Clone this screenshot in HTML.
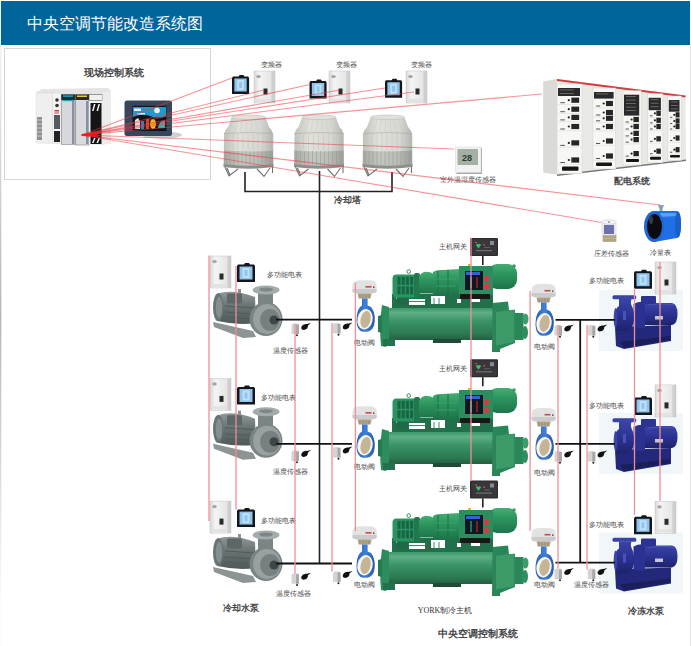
<!DOCTYPE html>
<html><head><meta charset="utf-8"><style>html,body{margin:0;padding:0;background:#fff;width:691px;height:646px;overflow:hidden;position:relative;font-family:"Liberation Sans",sans-serif}</style></head><body>
<svg width="691" height="646" viewBox="0 0 691 646" style="position:absolute;left:0;top:0" font-family="Liberation Serif, serif">

<defs>
<linearGradient id="gInv" x1="0" x2="1"><stop offset="0" stop-color="#d8d8d8"/><stop offset="0.25" stop-color="#f4f4f4"/><stop offset="0.8" stop-color="#e6e6e6"/><stop offset="1" stop-color="#c4c4c4"/></linearGradient>
<linearGradient id="gTower" x1="0" x2="1"><stop offset="0" stop-color="#bfc1bb"/><stop offset="0.3" stop-color="#e0e1dc"/><stop offset="0.75" stop-color="#d6d7d2"/><stop offset="1" stop-color="#b2b4ae"/></linearGradient>
<linearGradient id="gTowerL" x1="0" x2="1"><stop offset="0" stop-color="#a6a9a2"/><stop offset="0.35" stop-color="#c4c6c0"/><stop offset="0.7" stop-color="#bbbdb7"/><stop offset="1" stop-color="#9a9d97"/></linearGradient>
<linearGradient id="gPump" x1="0" x2="0" y1="0" y2="1"><stop offset="0" stop-color="#8f9797"/><stop offset="0.45" stop-color="#6a7373"/><stop offset="1" stop-color="#505959"/></linearGradient>
<linearGradient id="gGreen" x1="0" x2="0" y1="0" y2="1"><stop offset="0" stop-color="#45ad72"/><stop offset="0.35" stop-color="#2e9860"/><stop offset="1" stop-color="#1e744a"/></linearGradient>
<linearGradient id="gBlue" x1="0" x2="0" y1="0" y2="1"><stop offset="0" stop-color="#3a44a6"/><stop offset="0.5" stop-color="#2b3292"/><stop offset="1" stop-color="#1e236c"/></linearGradient>
<linearGradient id="gValve" x1="0" x2="1"><stop offset="0" stop-color="#2a62bc"/><stop offset="0.5" stop-color="#3f80d8"/><stop offset="1" stop-color="#2458a8"/></linearGradient>
<linearGradient id="gShell" x1="0" x2="0" y1="0" y2="1"><stop offset="0" stop-color="#3a9868"/><stop offset="0.15" stop-color="#60ae86"/><stop offset="0.4" stop-color="#3a9466"/><stop offset="0.8" stop-color="#2c7a52"/><stop offset="1" stop-color="#235e40"/></linearGradient>
<linearGradient id="gLeft" x1="0" x2="0" y1="0" y2="1"><stop offset="0" stop-color="#f2f2f2"/><stop offset="0.45" stop-color="#b4b4b4"/><stop offset="0.92" stop-color="#fbfbfb"/></linearGradient>
<linearGradient id="gCab" x1="0" x2="1"><stop offset="0" stop-color="#e6e6e2"/><stop offset="1" stop-color="#f2f2ee"/></linearGradient>

<g id="inv">
 <rect x="0" y="0" width="21" height="32" fill="url(#gInv)" stroke="#c4c4c4" stroke-width="0.5"/>
 <rect x="17.5" y="0.5" width="3" height="31" fill="#cfcfcf"/>
 <ellipse cx="4.5" cy="5.5" rx="2.3" ry="1.6" fill="#a4a4a4"/>
 <rect x="9.5" y="17.5" width="4" height="6" fill="#2a2a2a"/>
 <rect x="1" y="28" width="16" height="3" fill="#e2e2e2"/>
</g>
<g id="meter">
 <path d="M1,1.5 L7,1.5 L8,0 L12,0 L13,1.5 L17,1.5 L18,3 L18,19 L0,19 L0,3 Z" fill="#15161c"/>
 <rect x="2.5" y="3.5" width="13" height="13" fill="#8fc4ec"/>
 <rect x="5.5" y="5" width="7" height="10" fill="#bfe0f8"/>
 <rect x="7.5" y="7" width="3" height="6" fill="#8fc4ec"/>
</g>
<g id="tower">
 <path d="M7.5,2.5 L4,12 Q0.5,15 0,19 L49,19 Q48.5,15 45,12 L41.5,2.5 Z" fill="url(#gTower)"/>
 <line x1="10.180000000000001" y1="3.5" x2="5.030000000000001" y2="17" stroke="#c8cac4" stroke-width="0.5"/><line x1="14.38" y1="3.5" x2="10.73" y2="17" stroke="#c8cac4" stroke-width="0.5"/><line x1="18.580000000000002" y1="3.5" x2="16.43" y2="17" stroke="#c8cac4" stroke-width="0.5"/><line x1="22.78" y1="3.5" x2="22.13" y2="17" stroke="#c8cac4" stroke-width="0.5"/><line x1="26.98" y1="3.5" x2="27.83" y2="17" stroke="#c8cac4" stroke-width="0.5"/><line x1="31.18" y1="3.5" x2="33.53" y2="17" stroke="#c8cac4" stroke-width="0.5"/><line x1="35.379999999999995" y1="3.5" x2="39.23" y2="17" stroke="#c8cac4" stroke-width="0.5"/><line x1="39.58" y1="3.5" x2="44.93" y2="17" stroke="#c8cac4" stroke-width="0.5"/>
 <ellipse cx="24.6" cy="2.3" rx="17.2" ry="2.3" fill="#e0e1dc" stroke="#b4b6b0" stroke-width="0.5"/>
 <path d="M0,18 Q24.6,16 49,18 L49.2,50 Q24.6,53 -0.2,50 Z" fill="url(#gTower)"/>
 <path d="M0,18.5 Q24.6,16.5 49,18.5" stroke="#a8aaa4" stroke-width="0.6" fill="none"/>
 <line x1="4" y1="19" x2="4" y2="35" stroke="#c4c6c0" stroke-width="0.6"/><line x1="9" y1="19" x2="9" y2="35" stroke="#c4c6c0" stroke-width="0.6"/><line x1="14" y1="19" x2="14" y2="35" stroke="#c4c6c0" stroke-width="0.6"/><line x1="19" y1="19" x2="19" y2="35" stroke="#c4c6c0" stroke-width="0.6"/><line x1="24" y1="19" x2="24" y2="35" stroke="#c4c6c0" stroke-width="0.6"/><line x1="29" y1="19" x2="29" y2="35" stroke="#c4c6c0" stroke-width="0.6"/><line x1="34" y1="19" x2="34" y2="35" stroke="#c4c6c0" stroke-width="0.6"/><line x1="39" y1="19" x2="39" y2="35" stroke="#c4c6c0" stroke-width="0.6"/><line x1="44" y1="19" x2="44" y2="35" stroke="#c4c6c0" stroke-width="0.6"/><line x1="49" y1="19" x2="49" y2="35" stroke="#c4c6c0" stroke-width="0.6"/>
 <path d="M-0.1,35.5 Q24.6,37.5 49.1,35.5 L49.2,50 Q24.6,53 -0.2,50 Z" fill="url(#gTowerL)"/>
 <line x1="2" y1="36" x2="2" y2="50" stroke="#9a9d97" stroke-width="0.6"/><line x1="6" y1="36" x2="6" y2="50" stroke="#9a9d97" stroke-width="0.6"/><line x1="10" y1="36" x2="10" y2="50" stroke="#9a9d97" stroke-width="0.6"/><line x1="14" y1="36" x2="14" y2="50" stroke="#9a9d97" stroke-width="0.6"/><line x1="18" y1="36" x2="18" y2="50" stroke="#9a9d97" stroke-width="0.6"/><line x1="22" y1="36" x2="22" y2="50" stroke="#9a9d97" stroke-width="0.6"/><line x1="26" y1="36" x2="26" y2="50" stroke="#9a9d97" stroke-width="0.6"/><line x1="30" y1="36" x2="30" y2="50" stroke="#9a9d97" stroke-width="0.6"/><line x1="34" y1="36" x2="34" y2="50" stroke="#9a9d97" stroke-width="0.6"/><line x1="38" y1="36" x2="38" y2="50" stroke="#9a9d97" stroke-width="0.6"/><line x1="42" y1="36" x2="42" y2="50" stroke="#9a9d97" stroke-width="0.6"/><line x1="46" y1="36" x2="46" y2="50" stroke="#9a9d97" stroke-width="0.6"/>
 <path d="M-0.5,49 Q24.6,52.5 49.5,49 L49.5,52 Q24.6,55.5 -0.5,52 Z" fill="#8d908a"/>
 <path d="M1,52 L5,61 L14,54 M3,53 L6,60 M33,54 L40,61.5 L46,53 M48.5,52 L48.5,58" stroke="#6f726c" stroke-width="1.1" fill="none"/>
</g>
<g id="pump">
 <path d="M0,36 L40,45 L43,51 L30,52 L1,41 Z" fill="#8c9494"/>
 <path d="M4.6,7.5 Q20,2.5 42,11 L43,37 Q24,39.5 4.6,35 Z" fill="url(#gPump)"/>
 <ellipse cx="5.2" cy="21.3" rx="5.2" ry="14" fill="#6a7373"/>
 <ellipse cx="6" cy="21.3" rx="3.2" ry="10.5" fill="#849090"/>
 <rect x="14" y="7.5" width="15" height="10" rx="1.5" fill="#5e6767"/>
 <path d="M12,20 L42,22 M12,26 L42,28 M12,31 L42,33" stroke="#525b5b" stroke-width="1"/>
 <rect x="25" y="3" width="3" height="4" fill="#8a9292"/>
 <rect x="45" y="6" width="15" height="13" fill="#7c8585"/>
 <ellipse cx="53" cy="33" rx="16.5" ry="17" fill="#7b8484"/>
 <ellipse cx="54" cy="33" rx="14" ry="15" fill="#98a0a0"/>
 <ellipse cx="57" cy="34" rx="10" ry="11" fill="#778080"/>
 <circle cx="61" cy="34" r="4.5" fill="#3e4646"/>
 <ellipse cx="53" cy="4" rx="13.5" ry="4.5" fill="#a3abab"/>
 <ellipse cx="53" cy="3.5" rx="7" ry="2" fill="#7d8686"/>
</g>
<g id="valve">
 <path d="M0.5,11 L0.5,5 Q1,0 8,-0.3 L18,-0.3 Q24.5,0 24.7,5 L24.7,11 Q24,13.2 12.5,13.2 Q1,13.2 0.5,11 Z" fill="#e2e2e2"/>
 <path d="M0.5,8.5 L24.7,8.5 L24.7,11 Q24,13.2 12.5,13.2 Q1,13.2 0.5,11 Z" fill="#cbcbcb"/>
 <rect x="13.5" y="5.5" width="6" height="1.6" fill="#c84a4a"/>
 <rect x="21" y="6" width="1.5" height="1.5" fill="#555"/>
 <path d="M5.6,13.1 L19.6,13.1 L18.5,18.1 L6.6,18.1 Z" fill="#b0a48a"/>
 <path d="M8,14 v4 M11,14 v4 M14,14 v4 M17,14 v4" stroke="#8a7f68" stroke-width="0.6"/>
 <path d="M10,18 L15.6,18 L15.6,25 L19,26.5 Q23.5,32 22.7,41 Q22,50 15,51.3 L11,51.3 Q4.5,50 4.5,40 Q4.5,31 8,26.5 L10,25 Z" fill="url(#gValve)"/>
 <ellipse cx="13" cy="38.8" rx="7.6" ry="10.3" transform="rotate(12 13 38.8)" fill="#f6f5f0"/>
 <ellipse cx="13.6" cy="39" rx="5" ry="8.6" transform="rotate(12 13.6 39)" fill="#c5b596"/>
</g>
<g id="tsens">
 <path d="M0.5,4 Q0.5,2 3,2 L6,2 Q8,2 8,4 L8,12.5 L0.5,12.5 Z" fill="#d4d4d4"/>
 <rect x="5" y="3" width="3" height="9.5" fill="#a8a8a8"/>
 <circle cx="6" cy="13.8" r="1" fill="#222"/>
 <path d="M10.5,5 Q12,2 16,2.5 L20,1.5 L17,4 Q17,8 12.5,8.5 Q9.5,8 10.5,5 Z" fill="#111"/>
</g>
<g id="gateway">
 <rect x="0" y="0" width="28" height="18" rx="1.2" fill="#2c2c2e"/>
 <rect x="1.2" y="1.2" width="25.6" height="15.6" fill="#38383c"/>
 <path d="M6,7 Q7,5 8.5,6.5 Q10,5 11,7 L8.5,10.5 Z" fill="#3cc070"/>
 <rect x="5" y="4" width="2" height="1" fill="#e05050"/>
 <rect x="13" y="6" width="2" height="1.5" fill="#d04040"/>
 <rect x="20" y="3" width="4" height="4" fill="#8a8a8e"/>
 <rect x="6" y="12" width="16" height="1.2" fill="#707074"/>
 <rect x="14" y="9" width="6" height="1" fill="#606064"/>
 <rect x="12" y="18" width="1.6" height="9" fill="#222"/>
</g>
<g id="chiller">
 <!-- pipes between -->
 <rect x="14" y="31" width="101" height="15" fill="#21704a"/>
 <path d="M18,34 h5 v2 h-5 z M31,36 h16 v6 h-16 z M53,33 h14 v8 h-14 z M79,36 h4 v4 h-4 z M93,36 h9 v3 h-9 z" fill="#fff"/>
 <path d="M31,38.5 h16 M56,35 v6 M61,35 v6" stroke="#2e905e" stroke-width="1"/>
 <!-- lower shell -->
 <path d="M8,45 L116,45 L116,77 L8,77 Z" fill="url(#gShell)"/>
 <path d="M4,42 L11,44 L11,80 L8,84 L3,83 Q1,62 4,42 Z" fill="#2c8c5c"/>
 <path d="M0,53 L4,52 L4,70 L0,69 Z" fill="#237c52"/>
 <rect x="5" y="76" width="12" height="7" fill="#22724c"/>
 <rect x="55" y="76" width="28" height="4" fill="#1e4a36"/>
 <!-- water box -->
 <path d="M114.5,40 L130,38.5 L131,47 L137,47 L137,80 L122,86 L122,89 L114,89 Z" fill="#2a8658"/>
 <path d="M118,49 L136.5,46.5 L136.5,79 L118,82.5 Z" fill="#3c9a68"/>
 <rect x="136.5" y="50" width="9" height="27" fill="#2a8858"/>
 <ellipse cx="147.5" cy="56" rx="3" ry="5.5" fill="#3c9e6c"/>
 <ellipse cx="147" cy="69.5" rx="3" ry="6.5" fill="#2e8e60"/>
 <!-- motor -->
 <rect x="18.5" y="33" width="11" height="9" fill="#1e6a46"/>
 <rect x="14.5" y="11.5" width="26" height="23" rx="4" fill="#2a9460"/>
 <rect x="19.5" y="13.8" width="3" height="8" fill="#196444"/><rect x="19.5" y="23.3" width="3" height="8" fill="#196444"/><rect x="23.7" y="13.8" width="3" height="8" fill="#196444"/><rect x="23.7" y="23.3" width="3" height="8" fill="#196444"/><rect x="27.9" y="13.8" width="3" height="8" fill="#196444"/><rect x="27.9" y="23.3" width="3" height="8" fill="#196444"/><rect x="32.1" y="13.8" width="3" height="8" fill="#196444"/><rect x="32.1" y="23.3" width="3" height="8" fill="#196444"/>
 <rect x="36" y="10" width="6" height="25" rx="2" fill="#21784c"/>
 <circle cx="30.7" cy="8.6" r="1.8" fill="none" stroke="#2c8c5c" stroke-width="1"/>
 <!-- compressor -->
 <path d="M41,30.5 L41,14 Q44,8 50,9 Q54,9 56,12 L56,30.5 Z" fill="url(#gGreen)"/>
 <path d="M55,31.5 L55,9 Q58,6.5 64,7 L82,6 L82,32 Z" fill="url(#gGreen)"/>
 <path d="M60,8 v23 M70,7 v25" stroke="#1c6e44" stroke-width="1"/>
 <path d="M58,16 h20 M58,23 h20" stroke="#3cac70" stroke-width="0.7"/>
 <!-- oil separator -->
 <rect x="110" y="1" width="29" height="25" rx="9" fill="url(#gGreen)"/>
 <circle cx="136" cy="3" r="1.8" fill="#3a9c6a"/>
 <!-- control panel -->
 <rect x="81" y="3" width="34" height="29" fill="#2c8e5e"/>
 <rect x="87" y="8" width="18" height="19" fill="#0e1820"/>
 <rect x="88" y="9" width="14" height="3" fill="#3b5fd0"/>
 <rect x="92" y="14" width="2" height="11" fill="#2a7060"/>
 <rect x="98" y="14" width="2" height="11" fill="#7a2020"/>
 <rect x="106" y="13" width="5" height="5" rx="1" fill="#d83a44"/>
 <rect x="106" y="21" width="5" height="5" rx="1" fill="#d83a44"/>
 <rect x="90" y="1" width="3" height="2" fill="#e0c020"/>
 <rect x="82" y="31" width="30" height="5" fill="#181818"/>
</g>
<g id="bpump">
 <path d="M3,33 L59,31 L59,47 L12,55 L4,52 Z" fill="#23287a"/>
 <path d="M8,48 L58,42 L58,46 L12,54 Z" fill="#1a1e5c"/>
 <path d="M31,9 L60,9 Q65.5,10 65.5,20 Q65.5,30 60,31 L31,31 Z" fill="url(#gBlue)"/>
 <path d="M21.5,10 Q27,7 33,8 L33,34 Q26,35 21.5,33 Z" fill="#2b3190"/>
 <rect x="29" y="2" width="15" height="8" rx="1" fill="#2d3392"/>
 <path d="M7,5 L19.5,5 Q18,9 20,12.5 Q23,18 22,27 Q21,34 16,37 L5,37 Q2,30 2.5,22 Q3,14 7,12 Z" fill="url(#gBlue)"/>
 <ellipse cx="3.5" cy="24" rx="1.8" ry="10" fill="#3d45a5"/>
 <rect x="0.5" y="1.2" width="23.7" height="4" rx="1.5" fill="#3a43a6"/>
 <rect x="11" y="17" width="3" height="9" fill="#4a52b8"/>
 <rect x="43" y="22" width="8" height="3.5" fill="#c8c8d4"/>
 <path d="M36,11 Q50,9 62,11" stroke="#4c55b8" stroke-width="1.2" fill="none"/>
</g>
<g id="bpbg"><rect x="-13" y="-4" width="84" height="61" fill="#f1f6f8"/></g>
</defs>

<rect x="0" y="0" width="691" height="646" fill="#fff"/>
<line x1="690.5" y1="45" x2="690.5" y2="646" stroke="#e4e4e4" stroke-width="1"/>
<rect x="0" y="45" width="1.3" height="601" fill="url(#gLeft)"/>
<rect x="1" y="1" width="689" height="44" fill="#00659a"/>
<text x="27" y="23" font-family="Liberation Sans, sans-serif" font-size="16" fill="#fff" dominant-baseline="central">中央空调节能改造系统图</text>
<rect x="4.5" y="48.5" width="206" height="131" fill="#fff" stroke="#d6d6d6" stroke-width="1"/>
<text x="114" y="72" font-size="10" fill="#444" font-weight="bold" text-anchor="middle" dominant-baseline="central">现场控制系统</text>
<g>
<path d="M36,93 L42,89 L108,88 L111,91 L111,140 L104,145 L36,143 Z" fill="#e4e4e4"/>
<rect x="36" y="93" width="16.5" height="50" fill="#efefef" stroke="#d2d2d2" stroke-width="0.4"/>
<rect x="37" y="117" width="5" height="23" fill="#8e9094"/>
<path d="M37,120 h5 M37,124 h5 M37,128 h5 M37,132 h5 M37,136 h5" stroke="#d8d8d8" stroke-width="0.8"/>
<rect x="52.5" y="93" width="8.5" height="50" fill="#f4f4f4" stroke="#d2d2d2" stroke-width="0.4"/>
<circle cx="57" cy="100" r="1.8" fill="#333"/>
<circle cx="57" cy="105.5" r="1.8" fill="#333"/>
<rect x="54.5" y="110" width="4.5" height="1.5" fill="#d33"/>
<rect x="54.5" y="112.5" width="4.5" height="1" fill="#d33"/>
<rect x="54" y="115" width="6" height="14" fill="#555a60"/>
<rect x="54" y="131" width="6" height="11" fill="#222"/>
<rect x="61.3" y="94.5" width="14" height="50" fill="#d6d8dc" stroke="#80858e" stroke-width="0.6"/>
<rect x="61.3" y="94.5" width="14" height="5.5" fill="#1e2a36"/>
<rect x="63" y="95.5" width="10" height="1.2" fill="#30b8e0"/>
<rect x="62.5" y="100" width="12" height="1.2" fill="#30a0c0"/>
<rect x="72" y="101" width="2.5" height="43" fill="#8890a0"/>
<rect x="75.5" y="94.5" width="13.5" height="50.5" fill="#d8dadd" stroke="#80858e" stroke-width="0.6"/>
<rect x="75.5" y="94.5" width="13.5" height="5.5" fill="#2a2a22"/>
<rect x="77" y="95.5" width="10" height="1.5" fill="#e8d030"/>
<rect x="86" y="101" width="2.5" height="43" fill="#8890a0"/>
<rect x="89" y="94.5" width="13.5" height="50" fill="#f2f2f2"/>
<rect x="89" y="94.5" width="13.5" height="6" fill="#f0f0f0" stroke="#444" stroke-width="0.5"/>
<rect x="90.5" y="103" width="11" height="41" fill="#151515"/>
<path d="M92,111 L94,104 L95.5,104 L93.5,111 Z M96.5,111 L98.5,104 L100,104 L98,111 Z M92,143 L94,138 L95.5,138 L93.5,143 Z M96.5,143 L98.5,138 L100,138 L98,143 Z" fill="#f4f4f4"/>
<rect x="102.5" y="92" width="8.5" height="52" fill="#ececec"/>
</g>
<ellipse cx="162" cy="135" rx="20" ry="3.5" fill="#d0d0d0"/>
<rect x="124.5" y="100.5" width="47.5" height="35.5" rx="2.5" fill="#37465a"/>
<rect x="132.5" y="105.8" width="34" height="25.2" fill="#0d141c"/>
<path d="M133,107 h33 v9 q-8,3 -16,0 q-8,-3 -17,1 z" fill="#1f9ad0"/>
<path d="M134,108.5 h7 v2.5 h-7 z M137,113 h8 v1.5 h-8 z" fill="#e0f4ff"/>
<circle cx="157" cy="110.5" r="2.8" fill="#eaf6ff"/>
<path d="M135,120 l3,-2 l2,3 v8 h-5 z" fill="#e8e8e8"/>
<rect x="141" y="121" width="3" height="8" fill="#2a80d0"/>
<path d="M146,119 h3 v10 h-3 z" fill="#c84a20"/>
<ellipse cx="153" cy="124" rx="3" ry="5" fill="#f2b818"/>
<path d="M158,127 q3,-8 7,-6 v7 h-7 z" fill="#3ab0a8"/>

<use href="#meter" transform="translate(232,75) scale(0.95,1)"/>
<use href="#inv" transform="translate(254,71)"/>
<text x="271" y="64.7" font-size="7" fill="#4a4a4a" font-weight="normal" text-anchor="middle" dominant-baseline="central">变频器</text>
<use href="#meter" transform="translate(309.5,79.5) scale(0.95,1)"/>
<use href="#inv" transform="translate(329,71)"/>
<text x="346" y="64.7" font-size="7" fill="#4a4a4a" font-weight="normal" text-anchor="middle" dominant-baseline="central">变频器</text>
<use href="#meter" transform="translate(385,78.7) scale(0.95,1)"/>
<use href="#inv" transform="translate(406,71)"/>
<text x="421.5" y="64.7" font-size="7" fill="#4a4a4a" font-weight="normal" text-anchor="middle" dominant-baseline="central">变频器</text>
<use href="#tower" transform="translate(224,115)"/>
<use href="#tower" transform="translate(294.5,115)"/>
<use href="#tower" transform="translate(363,115)"/>
<path d="M245,172 V191.5 H392 V172 M319.5,171 V563.5" stroke="#222" stroke-width="1.6" fill="none"/>
<text x="347.5" y="199.5" font-size="9" fill="#444" font-weight="bold" text-anchor="middle" dominant-baseline="central">冷却塔</text>
<path d="M543.3,81.4 L557,79 L685.5,95.5 L686,159.5 L557,174.5 L543.3,172.4 Z" fill="#e9e9e5"/>
<path d="M543.3,81.4 L557,79 L557,174.5 L543.3,172.4 Z" fill="#dadad6"/>
<path d="M557,79 L685.5,95.5 L685.5,97.5 L557,81 Z" fill="#d23c3c"/>
<path d="M557,174.5 L686,159.5 L686,161 L557,176 Z" fill="#777"/>
<rect x="557" y="84" width="25" height="89.69999999999999" fill="#f7f7f4" stroke="#d2d2ce" stroke-width="0.5"/>
<rect x="558" y="88" width="22" height="8" fill="#2a2a2c"/>
<rect x="560" y="89.5" width="13.799999999999999" height="0.8" fill="#777"/>
<rect x="560" y="93.0" width="13.799999999999999" height="0.8" fill="#777"/>
<rect x="571.34" y="97.60000000000001" width="7.82" height="5.2" fill="#262626"/>
<circle cx="568.81" cy="100.2" r="1.1" fill="#222"/>
<rect x="560.3" y="102.2" width="4.6000000000000005" height="1" fill="#555"/>
<line x1="558" y1="104.5" x2="581" y2="104.5" stroke="#d6d6d2" stroke-width="0.5"/>
<rect x="571.34" y="106.60000000000001" width="7.82" height="5.2" fill="#262626"/>
<circle cx="568.81" cy="109.2" r="1.1" fill="#222"/>
<rect x="560.3" y="111.2" width="4.6000000000000005" height="1" fill="#555"/>
<line x1="558" y1="113.5" x2="581" y2="113.5" stroke="#d6d6d2" stroke-width="0.5"/>
<rect x="571.34" y="114.80000000000001" width="7.82" height="5.2" fill="#262626"/>
<circle cx="568.81" cy="117.4" r="1.1" fill="#222"/>
<rect x="560.3" y="119.4" width="4.6000000000000005" height="1" fill="#555"/>
<line x1="558" y1="121.7" x2="581" y2="121.7" stroke="#d6d6d2" stroke-width="0.5"/>
<rect x="571.34" y="123.9" width="7.82" height="5.2" fill="#262626"/>
<circle cx="568.81" cy="126.5" r="1.1" fill="#222"/>
<rect x="560.3" y="128.5" width="4.6000000000000005" height="1" fill="#555"/>
<line x1="558" y1="130.8" x2="581" y2="130.8" stroke="#d6d6d2" stroke-width="0.5"/>
<rect x="571.34" y="140.3" width="7.82" height="5.2" fill="#262626"/>
<circle cx="568.81" cy="142.9" r="1.1" fill="#222"/>
<rect x="560.3" y="144.9" width="4.6000000000000005" height="1" fill="#555"/>
<line x1="558" y1="147.20000000000002" x2="581" y2="147.20000000000002" stroke="#d6d6d2" stroke-width="0.5"/>
<rect x="571.34" y="157.4" width="7.82" height="5.2" fill="#262626"/>
<circle cx="568.81" cy="160" r="1.1" fill="#222"/>
<rect x="560.3" y="162" width="4.6000000000000005" height="1" fill="#555"/>
<line x1="558" y1="164.3" x2="581" y2="164.3" stroke="#d6d6d2" stroke-width="0.5"/>
<rect x="562" y="166.6" width="16.5" height="4.099999999999994" rx="1" fill="#151515"/>
<rect x="593" y="88" width="22.600000000000023" height="81" fill="#f7f7f4" stroke="#d2d2ce" stroke-width="0.5"/>
<rect x="594" y="92" width="19.600000000000023" height="6.599999999999994" fill="#2a2a2c"/>
<rect x="596" y="93.5" width="12.360000000000014" height="0.8" fill="#777"/>
<rect x="605.948" y="100.9" width="7.004000000000008" height="5.2" fill="#262626"/>
<circle cx="603.682" cy="103.5" r="1.1" fill="#222"/>
<rect x="596.06" y="105.5" width="4.1200000000000045" height="1" fill="#555"/>
<line x1="594" y1="107.8" x2="614.6" y2="107.8" stroke="#d6d6d2" stroke-width="0.5"/>
<rect x="605.948" y="109.9" width="7.004000000000008" height="5.2" fill="#262626"/>
<circle cx="603.682" cy="112.5" r="1.1" fill="#222"/>
<rect x="596.06" y="114.5" width="4.1200000000000045" height="1" fill="#555"/>
<line x1="594" y1="116.8" x2="614.6" y2="116.8" stroke="#d6d6d2" stroke-width="0.5"/>
<rect x="605.948" y="115.7" width="7.004000000000008" height="5.2" fill="#262626"/>
<circle cx="603.682" cy="118.3" r="1.1" fill="#222"/>
<rect x="596.06" y="120.3" width="4.1200000000000045" height="1" fill="#555"/>
<line x1="594" y1="122.6" x2="614.6" y2="122.6" stroke="#d6d6d2" stroke-width="0.5"/>
<rect x="605.948" y="123.9" width="7.004000000000008" height="5.2" fill="#262626"/>
<circle cx="603.682" cy="126.5" r="1.1" fill="#222"/>
<rect x="596.06" y="128.5" width="4.1200000000000045" height="1" fill="#555"/>
<line x1="594" y1="130.8" x2="614.6" y2="130.8" stroke="#d6d6d2" stroke-width="0.5"/>
<rect x="605.948" y="138.4" width="7.004000000000008" height="5.2" fill="#262626"/>
<circle cx="603.682" cy="141" r="1.1" fill="#222"/>
<rect x="596.06" y="143" width="4.1200000000000045" height="1" fill="#555"/>
<line x1="594" y1="145.3" x2="614.6" y2="145.3" stroke="#d6d6d2" stroke-width="0.5"/>
<rect x="605.948" y="153.4" width="7.004000000000008" height="5.2" fill="#262626"/>
<circle cx="603.682" cy="156" r="1.1" fill="#222"/>
<rect x="596.06" y="158" width="4.1200000000000045" height="1" fill="#555"/>
<line x1="594" y1="160.3" x2="614.6" y2="160.3" stroke="#d6d6d2" stroke-width="0.5"/>
<rect x="596" y="162.5" width="16" height="3.5" rx="1" fill="#151515"/>
<rect x="623" y="90.7" width="18.200000000000045" height="74.3" fill="#f7f7f4" stroke="#d2d2ce" stroke-width="0.5"/>
<rect x="624" y="94.7" width="15.200000000000045" height="20.89999999999999" fill="#2a2a2c"/>
<rect x="626" y="96.2" width="9.720000000000027" height="0.8" fill="#777"/>
<rect x="626" y="99.7" width="9.720000000000027" height="0.8" fill="#777"/>
<rect x="626" y="103.2" width="9.720000000000027" height="0.8" fill="#777"/>
<rect x="626" y="106.7" width="9.720000000000027" height="0.8" fill="#777"/>
<rect x="626" y="110.2" width="9.720000000000027" height="0.8" fill="#777"/>
<rect x="633.3960000000001" y="116.9" width="5.508000000000016" height="5.2" fill="#262626"/>
<circle cx="631.614" cy="119.5" r="1.1" fill="#222"/>
<rect x="625.62" y="121.5" width="3.240000000000009" height="1" fill="#555"/>
<line x1="624" y1="123.8" x2="640.2" y2="123.8" stroke="#d6d6d2" stroke-width="0.5"/>
<rect x="633.3960000000001" y="123.9" width="5.508000000000016" height="5.2" fill="#262626"/>
<circle cx="631.614" cy="126.5" r="1.1" fill="#222"/>
<rect x="625.62" y="128.5" width="3.240000000000009" height="1" fill="#555"/>
<line x1="624" y1="130.8" x2="640.2" y2="130.8" stroke="#d6d6d2" stroke-width="0.5"/>
<rect x="633.3960000000001" y="130.8" width="5.508000000000016" height="5.2" fill="#262626"/>
<circle cx="631.614" cy="133.4" r="1.1" fill="#222"/>
<rect x="625.62" y="135.4" width="3.240000000000009" height="1" fill="#555"/>
<line x1="624" y1="137.70000000000002" x2="640.2" y2="137.70000000000002" stroke="#d6d6d2" stroke-width="0.5"/>
<rect x="633.3960000000001" y="137.0" width="5.508000000000016" height="5.2" fill="#262626"/>
<circle cx="631.614" cy="139.6" r="1.1" fill="#222"/>
<rect x="625.62" y="141.6" width="3.240000000000009" height="1" fill="#555"/>
<line x1="624" y1="143.9" x2="640.2" y2="143.9" stroke="#d6d6d2" stroke-width="0.5"/>
<rect x="633.3960000000001" y="151.0" width="5.508000000000016" height="5.2" fill="#262626"/>
<circle cx="631.614" cy="153.6" r="1.1" fill="#222"/>
<rect x="625.62" y="155.6" width="3.240000000000009" height="1" fill="#555"/>
<line x1="624" y1="157.9" x2="640.2" y2="157.9" stroke="#d6d6d2" stroke-width="0.5"/>
<rect x="626" y="159" width="13" height="3" rx="1" fill="#151515"/>
<rect x="647.7" y="93.8" width="15.199999999999932" height="69.00000000000001" fill="#f7f7f4" stroke="#d2d2ce" stroke-width="0.5"/>
<rect x="648.7" y="97.8" width="12.199999999999932" height="12.400000000000006" fill="#2a2a2c"/>
<rect x="650.7" y="99.3" width="7.919999999999959" height="0.8" fill="#777"/>
<rect x="650.7" y="102.8" width="7.919999999999959" height="0.8" fill="#777"/>
<rect x="650.7" y="106.3" width="7.919999999999959" height="0.8" fill="#777"/>
<rect x="656.356" y="110.7" width="4.487999999999977" height="5.2" fill="#262626"/>
<circle cx="654.904" cy="113.3" r="1.1" fill="#222"/>
<rect x="650.02" y="115.3" width="2.6399999999999864" height="1" fill="#555"/>
<line x1="648.7" y1="117.6" x2="661.9" y2="117.6" stroke="#d6d6d2" stroke-width="0.5"/>
<rect x="656.356" y="117.7" width="4.487999999999977" height="5.2" fill="#262626"/>
<circle cx="654.904" cy="120.3" r="1.1" fill="#222"/>
<rect x="650.02" y="122.3" width="2.6399999999999864" height="1" fill="#555"/>
<line x1="648.7" y1="124.6" x2="661.9" y2="124.6" stroke="#d6d6d2" stroke-width="0.5"/>
<rect x="656.356" y="123.9" width="4.487999999999977" height="5.2" fill="#262626"/>
<circle cx="654.904" cy="126.5" r="1.1" fill="#222"/>
<rect x="650.02" y="128.5" width="2.6399999999999864" height="1" fill="#555"/>
<line x1="648.7" y1="130.8" x2="661.9" y2="130.8" stroke="#d6d6d2" stroke-width="0.5"/>
<rect x="656.356" y="136.20000000000002" width="4.487999999999977" height="5.2" fill="#262626"/>
<circle cx="654.904" cy="138.8" r="1.1" fill="#222"/>
<rect x="650.02" y="140.8" width="2.6399999999999864" height="1" fill="#555"/>
<line x1="648.7" y1="143.10000000000002" x2="661.9" y2="143.10000000000002" stroke="#d6d6d2" stroke-width="0.5"/>
<rect x="656.356" y="148.6" width="4.487999999999977" height="5.2" fill="#262626"/>
<circle cx="654.904" cy="151.2" r="1.1" fill="#222"/>
<rect x="650.02" y="153.2" width="2.6399999999999864" height="1" fill="#555"/>
<line x1="648.7" y1="155.5" x2="661.9" y2="155.5" stroke="#d6d6d2" stroke-width="0.5"/>
<rect x="650" y="156.7" width="11" height="3.1000000000000227" rx="1" fill="#151515"/>
<rect x="667.8" y="96" width="13.700000000000045" height="64.4" fill="#f7f7f4" stroke="#d2d2ce" stroke-width="0.5"/>
<rect x="668.8" y="100" width="10.700000000000045" height="11.700000000000003" fill="#2a2a2c"/>
<rect x="670.8" y="101.5" width="7.020000000000027" height="0.8" fill="#777"/>
<rect x="670.8" y="105.0" width="7.020000000000027" height="0.8" fill="#777"/>
<rect x="670.8" y="108.5" width="7.020000000000027" height="0.8" fill="#777"/>
<rect x="675.586" y="112.2" width="3.9780000000000157" height="5.2" fill="#262626"/>
<circle cx="674.299" cy="114.8" r="1.1" fill="#222"/>
<rect x="669.9699999999999" y="116.8" width="2.340000000000009" height="1" fill="#555"/>
<line x1="668.8" y1="119.1" x2="680.5" y2="119.1" stroke="#d6d6d2" stroke-width="0.5"/>
<rect x="675.586" y="118.4" width="3.9780000000000157" height="5.2" fill="#262626"/>
<circle cx="674.299" cy="121" r="1.1" fill="#222"/>
<rect x="669.9699999999999" y="123" width="2.340000000000009" height="1" fill="#555"/>
<line x1="668.8" y1="125.3" x2="680.5" y2="125.3" stroke="#d6d6d2" stroke-width="0.5"/>
<rect x="675.586" y="123.9" width="3.9780000000000157" height="5.2" fill="#262626"/>
<circle cx="674.299" cy="126.5" r="1.1" fill="#222"/>
<rect x="669.9699999999999" y="128.5" width="2.340000000000009" height="1" fill="#555"/>
<line x1="668.8" y1="130.8" x2="680.5" y2="130.8" stroke="#d6d6d2" stroke-width="0.5"/>
<rect x="675.586" y="135.4" width="3.9780000000000157" height="5.2" fill="#262626"/>
<circle cx="674.299" cy="138" r="1.1" fill="#222"/>
<rect x="669.9699999999999" y="140" width="2.340000000000009" height="1" fill="#555"/>
<line x1="668.8" y1="142.3" x2="680.5" y2="142.3" stroke="#d6d6d2" stroke-width="0.5"/>
<rect x="675.586" y="147.1" width="3.9780000000000157" height="5.2" fill="#262626"/>
<circle cx="674.299" cy="149.7" r="1.1" fill="#222"/>
<rect x="669.9699999999999" y="151.7" width="2.340000000000009" height="1" fill="#555"/>
<line x1="668.8" y1="154.0" x2="680.5" y2="154.0" stroke="#d6d6d2" stroke-width="0.5"/>
<rect x="670" y="155" width="10" height="2.4000000000000057" rx="1" fill="#151515"/>
<text x="632" y="181.3" font-size="9" fill="#444" font-weight="bold" text-anchor="middle" dominant-baseline="central">配电系统</text>
<rect x="456.5" y="148" width="25.5" height="26" fill="#a8a8a8"/>
<rect x="455.5" y="147" width="25.5" height="25.5" fill="#f2f2f4" stroke="#d8d8dc" stroke-width="0.5"/>
<rect x="457.5" y="149" width="20.5" height="16" fill="#a4b0a4"/>
<text x="467" y="158" font-size="9" font-weight="bold" font-family="Liberation Sans, sans-serif" fill="#2e3a32" text-anchor="middle" dominant-baseline="central">28</text>
<text x="468" y="179.7" font-size="7" fill="#4a4a4a" font-weight="normal" text-anchor="middle" dominant-baseline="central">室外温湿度传感器</text>
<rect x="602.5" y="234" width="14" height="8" rx="1" fill="#bdb391"/><path d="M603,237 h13 M603,240 h13" stroke="#8f876a" stroke-width="0.6"/><rect x="601.5" y="222" width="15" height="13" rx="2" fill="#e6e6ec"/><rect x="604" y="225" width="10" height="9" fill="#6c72a8"/><ellipse cx="609" cy="222" rx="7.5" ry="2.2" fill="#f4f4f6" stroke="#c4c4cc" stroke-width="0.5"/><circle cx="609" cy="222" r="1" fill="#999"/>
<text x="611" y="253.7" font-size="7" fill="#4a4a4a" font-weight="normal" text-anchor="middle" dominant-baseline="central">压差传感器</text>
<path d="M658,205 L664,205 L662.5,209 L662.5,212 L659.5,212 L659.5,209 Z" fill="#8a9cc0"/><path d="M654,211 L677,211 Q681,212 681,224.5 Q681,237 677,238 L654,242 Z" fill="#1f6fe6"/><path d="M660,213 L677,213 L677,216 L660,217 Z" fill="#5aa0f4"/><ellipse cx="678" cy="224.5" rx="3" ry="13" fill="#1a5ec8"/><ellipse cx="654" cy="226.5" rx="10" ry="15.5" fill="#1d66dc"/><ellipse cx="654.5" cy="226.5" rx="7.5" ry="12.5" fill="#0c0c10"/><ellipse cx="651" cy="220" rx="2" ry="4" fill="#3a3a44"/>
<text x="660" y="252.7" font-size="7" fill="#4a4a4a" font-weight="normal" text-anchor="middle" dominant-baseline="central">冷量表</text>
<use href="#inv" transform="translate(210,256)"/>
<use href="#meter" transform="translate(237,263)"/>
<text x="284.7" y="275.09999999999997" font-size="7" fill="#4a4a4a" font-weight="normal" text-anchor="middle" dominant-baseline="central">多功能电表</text>
<use href="#pump" transform="translate(213,286)"/>
<line x1="276" y1="319.7" x2="352" y2="319.7" stroke="#111" stroke-width="1.8"/>
<use href="#tsens" transform="translate(291,321.5)"/>
<use href="#tsens" transform="translate(332.5,321)"/>
<text x="290.7" y="351.2" font-size="7" fill="#4a4a4a" font-weight="normal" text-anchor="middle" dominant-baseline="central">温度传感器</text>
<use href="#valve" transform="translate(352,280.5)"/>
<text x="364.7" y="342.7" font-size="7" fill="#4a4a4a" font-weight="normal" text-anchor="middle" dominant-baseline="central">电动阀</text>
<use href="#chiller" transform="translate(378,263)"/>
<use href="#gateway" transform="translate(470,238)"/>
<text x="453" y="246.89999999999998" font-size="7" fill="#4a4a4a" font-weight="normal" text-anchor="middle" dominant-baseline="central">主机网关</text>
<use href="#valve" transform="translate(531,284.4)"/>
<text x="544.2" y="346.59999999999997" font-size="7" fill="#4a4a4a" font-weight="normal" text-anchor="middle" dominant-baseline="central">电动阀</text>
<use href="#bpbg" transform="translate(612,294)"/>
<use href="#bpump" transform="translate(612,294)"/>
<line x1="555.5" y1="319.9" x2="615" y2="319.9" stroke="#111" stroke-width="1.8"/>
<use href="#tsens" transform="translate(554,323)"/>
<use href="#tsens" transform="translate(587.3,323)"/>
<use href="#meter" transform="translate(634,269.7)"/>
<use href="#inv" transform="translate(655,262)"/>
<text x="606.3" y="280.5" font-size="7" fill="#4a4a4a" font-weight="normal" text-anchor="middle" dominant-baseline="central">多功能电表</text>
<use href="#inv" transform="translate(210,378.4)"/>
<use href="#meter" transform="translate(237,385.5)"/>
<text x="278.5" y="397.7" font-size="7" fill="#4a4a4a" font-weight="normal" text-anchor="middle" dominant-baseline="central">多功能电表</text>
<use href="#pump" transform="translate(213,407.7)"/>
<line x1="276" y1="443.8" x2="352" y2="443.8" stroke="#111" stroke-width="1.8"/>
<use href="#tsens" transform="translate(291,448.4)"/>
<use href="#tsens" transform="translate(332.5,445)"/>
<text x="290.7" y="471.59999999999997" font-size="7" fill="#4a4a4a" font-weight="normal" text-anchor="middle" dominant-baseline="central">温度传感器</text>
<use href="#valve" transform="translate(352,406.5)"/>
<text x="364.7" y="467.3" font-size="7" fill="#4a4a4a" font-weight="normal" text-anchor="middle" dominant-baseline="central">电动阀</text>
<use href="#chiller" transform="translate(378,387)"/>
<use href="#gateway" transform="translate(470,359.2)"/>
<text x="453" y="369.2" font-size="7" fill="#4a4a4a" font-weight="normal" text-anchor="middle" dominant-baseline="central">主机网关</text>
<use href="#valve" transform="translate(531,408.4)"/>
<text x="544.2" y="472.7" font-size="7" fill="#4a4a4a" font-weight="normal" text-anchor="middle" dominant-baseline="central">电动阀</text>
<use href="#bpbg" transform="translate(612,417)"/>
<use href="#bpump" transform="translate(612,417)"/>
<line x1="555.5" y1="443.9" x2="615" y2="443.9" stroke="#111" stroke-width="1.8"/>
<use href="#tsens" transform="translate(554,449)"/>
<use href="#tsens" transform="translate(587.3,449)"/>
<use href="#meter" transform="translate(634,396.0)"/>
<use href="#inv" transform="translate(655,384.9)"/>
<text x="606.3" y="405.7" font-size="7" fill="#4a4a4a" font-weight="normal" text-anchor="middle" dominant-baseline="central">多功能电表</text>
<use href="#inv" transform="translate(210,501.1)"/>
<use href="#meter" transform="translate(237,508.1)"/>
<text x="278.5" y="520.7" font-size="7" fill="#4a4a4a" font-weight="normal" text-anchor="middle" dominant-baseline="central">多功能电表</text>
<use href="#pump" transform="translate(213,531)"/>
<line x1="276" y1="563.5" x2="352" y2="563.5" stroke="#111" stroke-width="1.8"/>
<use href="#tsens" transform="translate(291,571.3)"/>
<use href="#tsens" transform="translate(332.5,569.4)"/>
<text x="293.3" y="593.7" font-size="7" fill="#4a4a4a" font-weight="normal" text-anchor="middle" dominant-baseline="central">温度传感器</text>
<use href="#valve" transform="translate(352,526.5)"/>
<text x="364.7" y="584.5" font-size="7" fill="#4a4a4a" font-weight="normal" text-anchor="middle" dominant-baseline="central">电动阀</text>
<use href="#chiller" transform="translate(378,507)"/>
<use href="#gateway" transform="translate(470,480.5)"/>
<text x="453" y="489.2" font-size="7" fill="#4a4a4a" font-weight="normal" text-anchor="middle" dominant-baseline="central">主机网关</text>
<use href="#valve" transform="translate(531,528.4)"/>
<text x="544.2" y="584.8000000000001" font-size="7" fill="#4a4a4a" font-weight="normal" text-anchor="middle" dominant-baseline="central">电动阀</text>
<use href="#bpbg" transform="translate(612,536.5)"/>
<use href="#bpump" transform="translate(612,536.5)"/>
<line x1="555.5" y1="562.6" x2="615" y2="562.6" stroke="#111" stroke-width="1.8"/>
<use href="#tsens" transform="translate(554,566.5)"/>
<use href="#tsens" transform="translate(587.3,566.5)"/>
<use href="#meter" transform="translate(634,515.3)"/>
<use href="#inv" transform="translate(655,501.3)"/>
<text x="606.3" y="525.2" font-size="7" fill="#4a4a4a" font-weight="normal" text-anchor="middle" dominant-baseline="central">多功能电表</text>
<line x1="580.2" y1="319.9" x2="580.2" y2="562.6" stroke="#111" stroke-width="1.8"/>
<text x="591.5" y="584.7" font-size="7" fill="#4a4a4a" font-weight="normal" text-anchor="middle" dominant-baseline="central">温度传感器</text>
<text x="240.5" y="607.7" font-size="9" fill="#444" font-weight="bold" text-anchor="middle" dominant-baseline="central">冷却水泵</text>
<text x="445" y="610.2" font-size="8" fill="#333" font-weight="normal" text-anchor="middle" dominant-baseline="central">YORK制冷主机</text>
<text x="477.5" y="633.5" font-size="10" fill="#444" font-weight="bold" text-anchor="middle" dominant-baseline="central">中央空调控制系统</text>
<text x="645.6" y="610.6" font-size="9" fill="#444" font-weight="bold" text-anchor="middle" dominant-baseline="central">冷冻水泵</text>
<line x1="82" y1="135" x2="232" y2="78" stroke="#f03a44" stroke-opacity="0.55" stroke-width="1.1"/>
<line x1="82" y1="135" x2="264" y2="90" stroke="#f03a44" stroke-opacity="0.55" stroke-width="1.1"/>
<line x1="82" y1="135" x2="310" y2="84.5" stroke="#f03a44" stroke-opacity="0.55" stroke-width="1.1"/>
<line x1="82" y1="135" x2="340" y2="90" stroke="#f03a44" stroke-opacity="0.55" stroke-width="1.1"/>
<line x1="82" y1="135" x2="385" y2="88" stroke="#f03a44" stroke-opacity="0.55" stroke-width="1.1"/>
<line x1="82" y1="135" x2="414" y2="92" stroke="#f03a44" stroke-opacity="0.55" stroke-width="1.1"/>
<line x1="82" y1="135" x2="542" y2="94" stroke="#f03a44" stroke-opacity="0.55" stroke-width="1.1"/>
<line x1="82" y1="135" x2="454" y2="149" stroke="#f03a44" stroke-opacity="0.55" stroke-width="1.1"/>
<line x1="82" y1="135" x2="660" y2="205" stroke="#f03a44" stroke-opacity="0.55" stroke-width="1.1"/>
<line x1="82" y1="135" x2="601.5" y2="222.5" stroke="#f03a44" stroke-opacity="0.55" stroke-width="1.1"/>
<path d="M81.5,134 L98,132 L98,137 L81.5,136 Z" fill="#f01818" fill-opacity="0.85"/>
<line x1="209" y1="255.5" x2="209" y2="521" stroke="#ef8f98" stroke-width="1.3"/>
<line x1="236" y1="266" x2="236" y2="509.5" stroke="#ef8f98" stroke-width="1.3"/>
<line x1="295" y1="323.7" x2="295" y2="573.5" stroke="#ef8f98" stroke-width="1.3"/>
<line x1="332" y1="323" x2="332" y2="571.4" stroke="#ef8f98" stroke-width="1.3"/>
<line x1="355.4" y1="282.7" x2="355.4" y2="531" stroke="#ef8f98" stroke-width="1.3"/>
<line x1="471" y1="238" x2="471" y2="481" stroke="#ef8f98" stroke-width="1.3"/>
<line x1="530.1" y1="291" x2="530.1" y2="531" stroke="#ef8f98" stroke-width="1.3"/>
<line x1="558" y1="325" x2="558" y2="568.2" stroke="#ef8f98" stroke-width="1.3"/>
<line x1="587" y1="325" x2="587" y2="569.6" stroke="#ef8f98" stroke-width="1.3"/>
<line x1="634.5" y1="288" x2="634.5" y2="515" stroke="#ef8f98" stroke-width="1.3"/>
<line x1="660" y1="262" x2="660" y2="501" stroke="#ef8f98" stroke-width="1.3"/>
</svg>
</body></html>
